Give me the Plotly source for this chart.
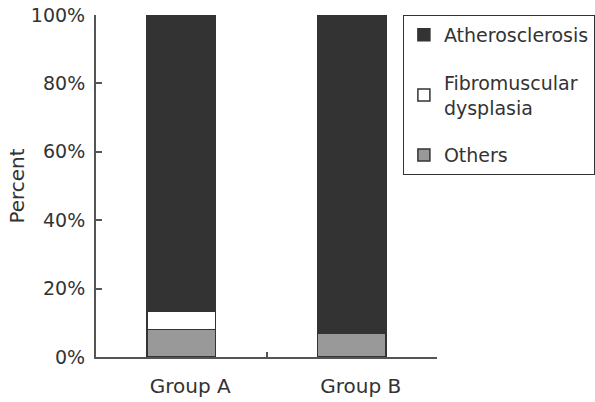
import plotly.graph_objects as go

groups = ["Group A", "Group B"]
others = [8.0, 7.0]
fibro = [5.3, 0.0]
athero = [86.7, 93.0]
series_names = ["Others", "Fibromuscular<br>dysplasia", "Atherosclerosis"]
series_vals = [others, fibro, athero]
series_colors = ["#999999", "#ffffff", "#333333"]
legend_ranks = [3, 2, 1]

fig = go.Figure()
for name, vals, col, rk in zip(series_names, series_vals, series_colors, legend_ranks):
    fig.add_trace(go.Bar(
        x=groups, y=vals, name=name, legendgroup=name, legendrank=rk,
        marker=dict(color=col, line=dict(color="#333333", width=1.5)),
        width=0.4,
    ))

font_family = "DejaVu Sans, sans-serif"
txt = "#333333"
fig.update_layout(
    width=595, height=402,
    barmode="stack",
    plot_bgcolor="white", paper_bgcolor="white",
    margin=dict(l=96, r=158, t=15, b=45, autoexpand=False),
    font=dict(family=font_family, size=19, color=txt),
    showlegend=True,
    legend=dict(
        x=0.9, y=1.0, xanchor="left", yanchor="top",
        traceorder="grouped", tracegroupgap=20,
        bordercolor="#333333", borderwidth=1,
        font=dict(size=19, color=txt),
        itemwidth=30,
    ),
    xaxis=dict(
        type="category", range=[-0.5, 1.5], automargin=False,
        showline=True, linecolor="#555555", linewidth=2,
        ticks="inside", ticklen=5, tickcolor="#555555", tickwidth=2,
        tickson="boundaries", showgrid=False,
        ticklabelstandoff=10, ticklabelshift=9,
        tickfont=dict(size=20, color=txt),
    ),
    yaxis=dict(
        range=[0, 100], tickvals=[0, 20, 40, 60, 80, 100], automargin=False,
        ticktext=["0%", "20%", "40%", "60%", "80%", "100%"],
        showline=True, linecolor="#555555", linewidth=2,
        ticks="inside", ticklen=6, tickcolor="#555555", tickwidth=2,
        showgrid=False, zeroline=False,
        ticklabelstandoff=5, ticklabeloverflow="allow",
        title=dict(text="Percent", font=dict(size=20, color=txt), standoff=1),
        tickfont=dict(size=19, color=txt),
    ),
)

fig.write_html(
    "out.html",
    config={"displayModeBar": False},
    post_script="document.body.style.margin='0';document.body.style.padding='0';",
)
